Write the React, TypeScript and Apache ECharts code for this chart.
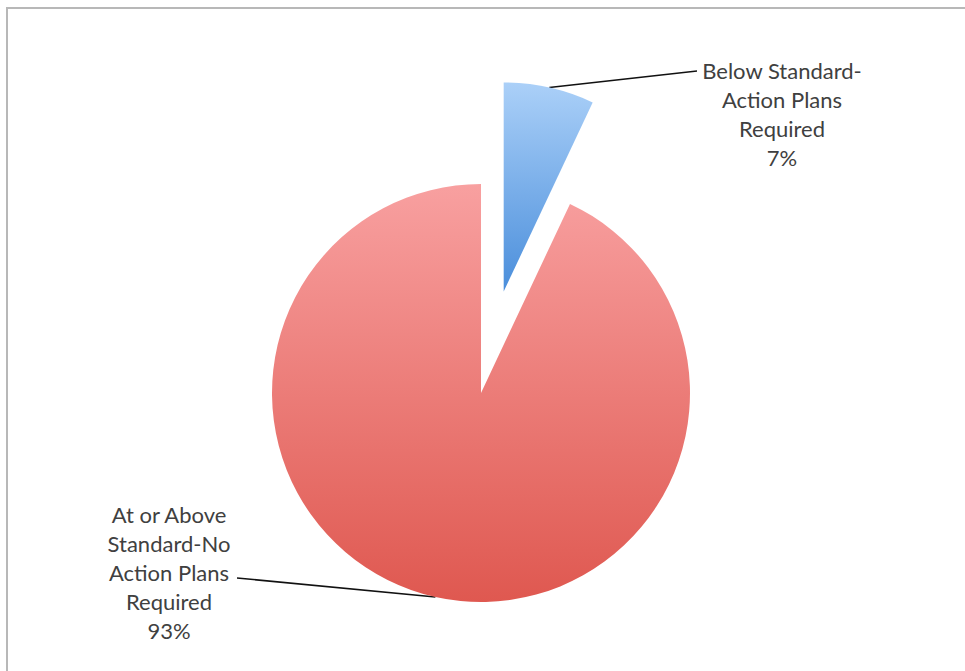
import React, { useEffect, useRef } from 'react';
import * as echarts from 'echarts';

const categories = [
  'Below Standard-\nAction Plans\nRequired',
  'At or Above\nStandard-No\nAction Plans\nRequired',
];
const values = [7, 93];
const topColors = ['#abd0f8', '#f8a0a0'];
const bottomColors = ['#4a8edb', '#df5850'];
const explodedIndex = 0;

// label layout (positions of label blocks and end of leader lines)
const labelBoxes = [
  { x: 782, y: 56, lineEnd: [697, 71] },
  { x: 169, y: 500, lineEnd: [237, 578] },
];

const CENTER = [481, 393];
const RADIUS = 209;
const EXPLODE = 104;

export default function App() {
  const ref = useRef<HTMLDivElement>(null);
  useEffect(() => {
    document.body.style.margin = '0';
    const chart = echarts.init(ref.current!, null, { renderer: 'svg' });
    const grad = (i: number) =>
      new echarts.graphic.LinearGradient(0, 0, 0, 1, [
        { offset: 0, color: topColors[i] },
        { offset: 1, color: bottomColors[i] },
      ]);
    const total = values.reduce((a, b) => a + b, 0);
    let before = 0;
    for (let i = 0; i < explodedIndex; i++) before += values[i];
    const midFrac = (before + values[explodedIndex] / 2) / total;
    const theta = midFrac * 2 * Math.PI;
    const explodedCenter = [
      CENTER[0] + EXPLODE * Math.sin(theta),
      CENTER[1] - EXPLODE * Math.cos(theta),
    ];

    const labelStyle = {
      formatter: '{b}\n{d}%',
      fontFamily: 'Lato',
      fontSize: 22,
      lineHeight: 29,
      color: '#404040',
      align: 'center',
    };
    const labelLayout = (params: any) => {
      const b = labelBoxes[params.dataIndex];
      const start = params.labelLinePoints ? params.labelLinePoints[0] : b.lineEnd;
      return {
        x: b.x,
        y: b.y,
        align: 'center',
        verticalAlign: 'top',
        labelLinePoints: [start, b.lineEnd],
      };
    };
    const makeSeries = (center: number[], visible: (i: number) => boolean) => ({
      type: 'pie',
      center,
      radius: RADIUS,
      startAngle: 90,
      clockwise: true,
      silent: true,
      emphasis: { disabled: true },
      data: values.map((v, i) => ({
        value: v,
        name: categories[i],
        itemStyle: { color: visible(i) ? grad(i) : 'rgba(0,0,0,0)' },
        label: { show: visible(i), ...labelStyle },
        labelLine: { show: visible(i), lineStyle: { color: '#111', width: 1.5 } },
      })),
      labelLayout,
    });

    chart.setOption({
      animation: false,
      backgroundColor: '#ffffff',
      graphic: [
        {
          type: 'rect',
          shape: { x: 7, y: 8, width: 1000, height: 700 },
          style: { fill: 'none', stroke: '#b8b8b8', lineWidth: 2 },
          silent: true,
        },
      ],
      series: [
        makeSeries(CENTER, (i) => i !== explodedIndex),
        makeSeries(explodedCenter, (i) => i === explodedIndex),
      ],
    });
    return () => chart.dispose();
  }, []);
  return <div ref={ref} style={{ width: 965, height: 671 }} />;
}
